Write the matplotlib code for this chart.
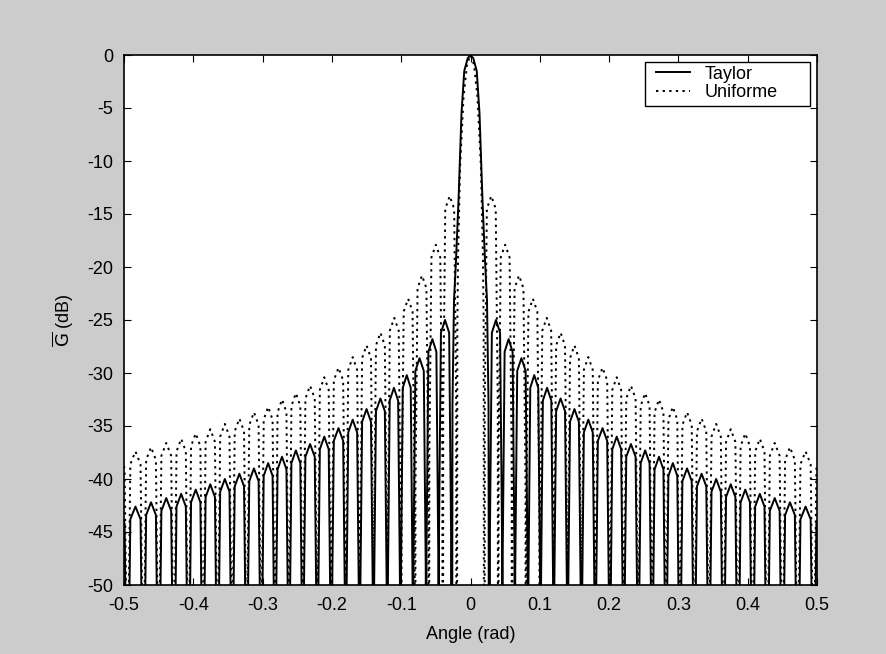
import numpy as np
import matplotlib.pyplot as plt
from matplotlib.patches import Rectangle

# array pattern, positive side only (the pattern is symmetric about 0)
# main lobe samples: angle (rad) / level (dB)
uniform_main_ang = [0.0, 0.005, 0.010, 0.015, 0.018, 0.019, 0.020]
uniform_main_db = [0.0, -0.9, -3.9, -10.5, -19.2, -25.6, -120.0]
taylor_main_ang = [0.0, 0.004, 0.009, 0.013, 0.0173, 0.0210, 0.0238, 0.0260, 0.0275]
taylor_main_db = [0.0, -0.3, -1.5, -5.5, -13.7, -19.5, -23.1, -33.0, -120.0]

# sidelobe nulls (rad) and sidelobe peak levels (dB)
uniform_nulls = [0.020, 0.040, 0.060, 0.080, 0.100, 0.120, 0.140, 0.160, 0.180,
                 0.201, 0.221, 0.242, 0.262, 0.282, 0.302, 0.323, 0.344, 0.365,
                 0.386, 0.407, 0.428, 0.450, 0.472, 0.495, 0.518]
uniform_peaks = [-13.3, -17.9, -20.8, -23.0, -24.8, -26.2, -27.4, -28.5, -29.5,
                 -30.4, -31.2, -31.9, -32.5, -33.2, -33.7, -34.3, -34.8, -35.3,
                 -35.7, -36.2, -36.6, -37.0, -37.4, -37.8]
taylor_nulls = [0.0275, 0.046, 0.064, 0.083, 0.101, 0.120, 0.140, 0.160, 0.180,
                0.201, 0.221, 0.242, 0.262, 0.282, 0.302, 0.323, 0.344, 0.365,
                0.386, 0.407, 0.428, 0.450, 0.472, 0.495, 0.518]
taylor_peaks = [-25.0, -26.8, -28.6, -30.2, -31.4, -32.4, -33.4, -34.4, -35.2,
                -36.0, -36.7, -37.3, -37.9, -38.5, -39.0, -39.5, -40.0, -40.5,
                -41.0, -41.4, -41.8, -42.2, -42.6, -43.0]

xticks = [-0.5, -0.4, -0.3, -0.2, -0.1, 0, 0.1, 0.2, 0.3, 0.4, 0.5]
xticklabels = ['-0.5', '-0.4', '-0.3', '-0.2', '-0.1', '0', '0.1', '0.2', '0.3', '0.4', '0.5']
yticks = [0, -5, -10, -15, -20, -25, -30, -35, -40, -45, -50]

# outline of one sidelobe between two nulls: fraction of lobe width / dB below peak
LOBE_T = [0.0, 0.03, 0.18, 0.5, 0.82, 0.97, 1.0]
LOBE_REL = [-120, -20, -1.2, 0, -1.2, -20, -120]


def pattern(main_ang, main_db, nulls, peaks):
    xs = list(main_ang)
    ys = list(main_db)
    for a, b, p in zip(nulls[:-1], nulls[1:], peaks):
        xs += [a + t * (b - a) for t in LOBE_T]
        ys += [p + r for r in LOBE_REL]
    x = np.array(xs)
    y = np.array(ys)
    return np.concatenate([-x[::-1], x]), np.concatenate([y[::-1], y])


plt.rcParams['font.family'] = ['Liberation Sans', 'DejaVu Sans']
plt.rcParams['axes.unicode_minus'] = False

W, H = 887, 654
fig = plt.figure(figsize=(W / 100, H / 100), dpi=100, facecolor='#cccccc')
ax = fig.add_axes([124 / W, 1 - 585 / H, (817 - 124) / W, (585 - 55) / H])

xt, yt = pattern(taylor_main_ang, taylor_main_db, taylor_nulls, taylor_peaks)
xu, yu = pattern(uniform_main_ang, uniform_main_db, uniform_nulls, uniform_peaks)
ax.plot(xt, yt, color='k', lw=1.4, label='Taylor')
ax.plot(xu, yu, color='k', lw=1.4, linestyle=(0, (1.2, 2.2)), label='Uniforme')

ax.set_xlim(-0.5, 0.5)
ax.set_ylim(-50, 0)
ax.set_xticks(xticks)
ax.set_xticklabels(xticklabels)
ax.set_yticks(yticks)
ax.tick_params(direction='in', top=True, right=True, length=5, labelsize=13)
ax.tick_params(axis='x', pad=9)
ax.tick_params(axis='y', pad=8)
for s in ax.spines.values():
    s.set_linewidth(1.2)

ax.set_xlabel('Angle (rad)', fontsize=13, labelpad=8)
ax.set_ylabel(r'$\overline{\mathrm{G}}$ (dB)', fontsize=13, labelpad=8)

# legend box drawn separately so it can be wider than its entries
box = Rectangle((645 / W, 1 - 106 / H), 165 / W, 44 / H, transform=fig.transFigure,
                facecolor='white', edgecolor='k', lw=1.0, zorder=5)
fig.patches.append(box)
leg = fig.legend(*ax.get_legend_handles_labels(), loc='upper left',
                 bbox_to_anchor=(652 / W, 1 - 62 / H), fontsize=13, frameon=False,
                 handlelength=1.9, handletextpad=0.8, borderpad=0.2,
                 borderaxespad=0.0, labelspacing=0.1)
leg.set_zorder(6)

fig.savefig('out.png', dpi=100, facecolor=fig.get_facecolor())
